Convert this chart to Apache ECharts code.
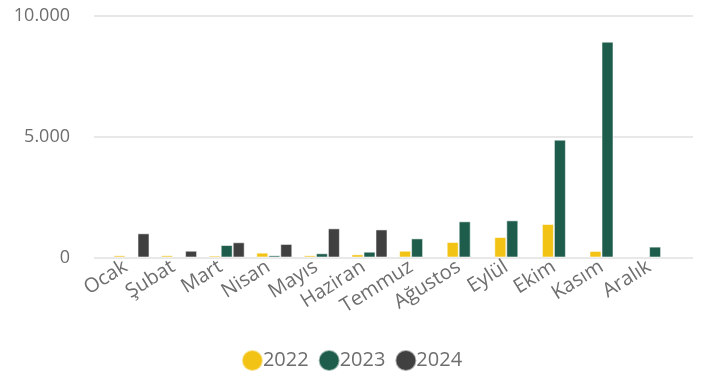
<!DOCTYPE html>
<html>
<head>
<meta charset="utf-8">
<script src="https://cdn.jsdelivr.net/npm/echarts@6/dist/echarts.min.js"></script>
<style>
  html, body { margin: 0; padding: 0; background: #fff; }
  #chart { width: 703px; height: 380px; }
</style>
</head>
<body>
<div id="chart"></div>
<script>
// Months and monthly values per year
const months = ['Ocak', 'Şubat', 'Mart', 'Nisan', 'Mayıs', 'Haziran', 'Temmuz', 'Ağustos', 'Eylül', 'Ekim', 'Kasım', 'Aralık'];
const years = ['2022', '2023', '2024'];
const values2022 = [90, 90, 80, 200, 90, 130, 280, 640, 845, 1385, 270, null];
const values2023 = [null, null, 515, 90, 175, 240, 790, 1495, 1535, 4870, 8920, 450];
const values2024 = [1000, 280, 630, 560, 1205, 1160, null, null, null, null, null, null];
const yTicks = [0, 5000, 10000];

const colors = ['#F2C314', '#1E5C4C', '#404040'];
const textColor = '#6E6E6E';
const fontFamily = '"Open Sans", "Noto Sans", sans-serif';

const fmt = v => String(v).replace(/\B(?=(\d{3})+(?!\d))/g, '.');

const chart = echarts.init(document.getElementById('chart'));

const barStyle = color => ({
  color: color,
  borderColor: 'rgba(255,255,255,0.55)',
  borderWidth: 1
});

chart.setOption({
  animation: false,
  textStyle: { fontFamily: fontFamily },
  legend: {
    data: years,
    bottom: 3,
    left: 'center',
    icon: 'circle',
    itemWidth: 21,
    itemHeight: 21,
    itemGap: 9,
    textStyle: { color: textColor, fontSize: 20, fontFamily: fontFamily, padding: [0, 0, 0, -5] }
  },
  grid: [
    // full-width grid carrying the horizontal guide lines and value labels
    { left: 94, right: 10, top: 15.5, bottom: 122.5 },
    // grid holding the bars
    { left: 107.7, right: 24.1, top: 15.5, bottom: 122.5 }
  ],
  xAxis: [
    { type: 'category', gridIndex: 0, data: months, show: false },
    {
      type: 'category', gridIndex: 1, data: months,
      axisLine: { show: false },
      axisTick: { show: false },
      axisLabel: {
        rotate: 32, color: textColor, fontSize: 20, margin: 4, fontFamily: fontFamily,
        interval: 0, padding: [0, 7, 0, 0]
      }
    }
  ],
  yAxis: [
    {
      type: 'value', gridIndex: 0, min: yTicks[0], max: yTicks[yTicks.length - 1], interval: 5000,
      axisLine: { show: false }, axisTick: { show: false },
      splitLine: { lineStyle: { color: '#E8E8E8', width: 2 } },
      axisLabel: { color: textColor, fontSize: 18, margin: 24, fontFamily: fontFamily, formatter: fmt }
    },
    {
      type: 'value', gridIndex: 1, min: yTicks[0], max: yTicks[yTicks.length - 1], interval: 5000,
      show: false, splitLine: { show: false }
    }
  ],
  series: [
    { name: years[0], type: 'bar', xAxisIndex: 1, yAxisIndex: 1, data: values2022, barWidth: 12, barGap: '0%', itemStyle: barStyle(colors[0]) },
    { name: years[1], type: 'bar', xAxisIndex: 1, yAxisIndex: 1, data: values2023, barWidth: 12, barGap: '0%', itemStyle: barStyle(colors[1]) },
    { name: years[2], type: 'bar', xAxisIndex: 1, yAxisIndex: 1, data: values2024, barWidth: 12, barGap: '0%', itemStyle: barStyle(colors[2]) }
  ]
});
</script>
</body>
</html>
